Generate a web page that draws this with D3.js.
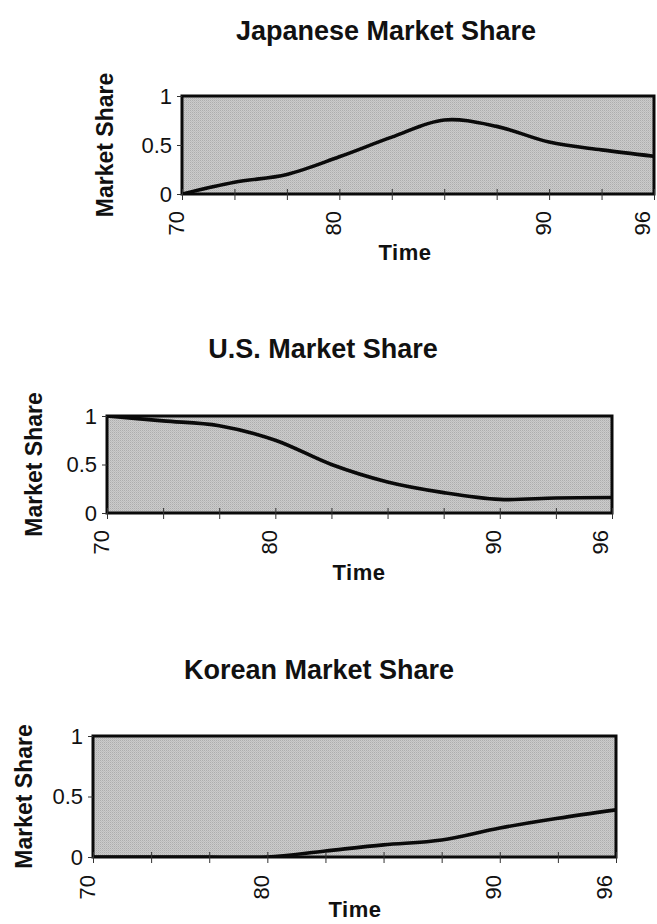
<!DOCTYPE html>
<html>
<head>
<meta charset="utf-8">
<script src="https://cdn.jsdelivr.net/npm/d3@7"></script>
<style>
body { margin: 0; background: #fff; }
text { font-family: "Liberation Sans", Arial, sans-serif; fill: #111; }
</style>
</head>
<body>
<script>
// category axis: ten sample years, only some of them labelled
var years = ["70", "73", "76", "80", "82", "85", "87", "90", "93", "96"];
var yearLabels = ["70", "80", "90", "96"];
var shareTicks = [0, 0.5, 1];

var japanShare = [0, 0.12, 0.20, 0.38, 0.58, 0.755, 0.69, 0.53, 0.45, 0.385];
var usShare    = [1.0, 0.95, 0.90, 0.75, 0.50, 0.32, 0.21, 0.14, 0.155, 0.16];
var koreaShare = [0, 0, 0, 0, 0.05, 0.10, 0.14, 0.24, 0.32, 0.39];

var titles = ["Japanese Market Share", "U.S. Market Share", "Korean Market Share"];

var svg = d3.select('body').append('svg')
  .attr('width', 657)
  .attr('height', 924);

// stippled grey like the printed plot area
var defs = svg.append('defs');
var pat = defs.append('pattern')
  .attr('id', 'stipple')
  .attr('width', 2).attr('height', 2)
  .attr('patternUnits', 'userSpaceOnUse');
pat.append('rect').attr('width', 2).attr('height', 2).attr('fill', '#cbcbcb');
pat.append('rect').attr('width', 1).attr('height', 1).attr('fill', '#adadad');
pat.append('rect').attr('x', 1).attr('y', 1).attr('width', 1).attr('height', 1).attr('fill', '#bdbdbd');

var chart = function(id, values, title, box) {

  var x = d3.scalePoint()
    .domain(years)
    .range([box.left, box.right]);

  var y = d3.scaleLinear()
    .domain([0, 1])
    .range([box.bottom, box.top]);

  var g = svg.append('g').attr('class', 'chart');

  g.append('clipPath').attr('id', 'clip' + id)
    .append('rect')
    .attr('x', box.left).attr('y', box.top)
    .attr('width', box.right - box.left)
    .attr('height', box.bottom - box.top);

  // plot area
  g.append('rect')
    .attr('x', box.left).attr('y', box.top)
    .attr('width', box.right - box.left)
    .attr('height', box.bottom - box.top)
    .attr('fill', 'url(#stipple)');

  var line = d3.line()
    .x(function(d, i) { return x(years[i]); })
    .y(function(d) { return y(d); })
    .curve(d3.curveCatmullRom.alpha(0.5));

  g.append('path')
    .datum(values)
    .attr('clip-path', 'url(#clip' + id + ')')
    .attr('fill', 'none')
    .attr('stroke', '#0a0a0a')
    .attr('stroke-width', 3.6)
    .attr('stroke-linejoin', 'round')
    .attr('d', line);

  g.append('rect')
    .attr('x', box.left).attr('y', box.top)
    .attr('width', box.right - box.left)
    .attr('height', box.bottom - box.top)
    .attr('fill', 'none')
    .attr('stroke', '#0a0a0a')
    .attr('stroke-width', 3);

  // y axis
  var yAxis = d3.axisLeft(y)
    .tickValues(shareTicks)
    .tickFormat(function(d) { return d; })
    .tickSize(5)
    .tickPadding(5);

  var ya = g.append('g')
    .attr('transform', 'translate(' + box.left + ',0)')
    .call(yAxis);
  ya.select('.domain').remove();
  ya.selectAll('text').style('font-size', '22px').attr('fill', '#111');
  ya.selectAll('line').attr('stroke', '#333');

  // x axis, ticks cross the bottom edge
  var xAxis = d3.axisBottom(x)
    .tickFormat(function(d) { return yearLabels.indexOf(d) >= 0 ? d : ''; })
    .tickSize(6);

  var xa = g.append('g')
    .attr('transform', 'translate(0,' + box.bottom + ')')
    .call(xAxis);
  xa.select('.domain').remove();
  xa.selectAll('line').attr('y1', -5).attr('stroke', '#333');
  xa.selectAll('text')
    .style('font-size', '22px')
    .attr('fill', '#111')
    .attr('text-anchor', 'end')
    .attr('transform', 'translate(0,' + box.labelGap + ') rotate(-90)')
    .attr('x', 0).attr('y', 0)
    .attr('dy', function(d) { return d === '96' ? '-0.2em' : '0.05em'; });

  // titles
  g.append('text')
    .attr('x', box.titleX).attr('y', box.top - box.titleGap)
    .attr('text-anchor', 'middle')
    .style('font-size', '27px')
    .style('font-weight', 'bold')
    .text(title);

  g.append('text')
    .attr('transform', 'translate(' + box.yTitleX + ',' + ((box.top + box.bottom) / 2) + ') rotate(-90)')
    .attr('text-anchor', 'middle')
    .style('font-size', '23px')
    .style('font-weight', 'bold')
    .text('Market Share');

  g.append('text')
    .attr('x', box.timeX).attr('y', box.bottom + box.timeGap)
    .attr('text-anchor', 'middle')
    .style('font-size', '22px')
    .style('font-weight', 'bold')
    .style('letter-spacing', '0.5px')
    .text('Time');
}

chart(1, japanShare, titles[0], {left: 182, right: 654, top: 96, bottom: 194, titleX: 386, titleGap: 56, yTitleX: 113, labelGap: 17, timeX: 405, timeGap: 66});
chart(2, usShare, titles[1], {left: 107, right: 612, top: 416, bottom: 513, titleX: 323, titleGap: 58, yTitleX: 42, labelGap: 17, timeX: 359, timeGap: 67});
chart(3, koreaShare, titles[2], {left: 93, right: 616, top: 736, bottom: 857, titleX: 319, titleGap: 57, yTitleX: 32, labelGap: 18, timeX: 355, timeGap: 60});
</script>
</body>
</html>
